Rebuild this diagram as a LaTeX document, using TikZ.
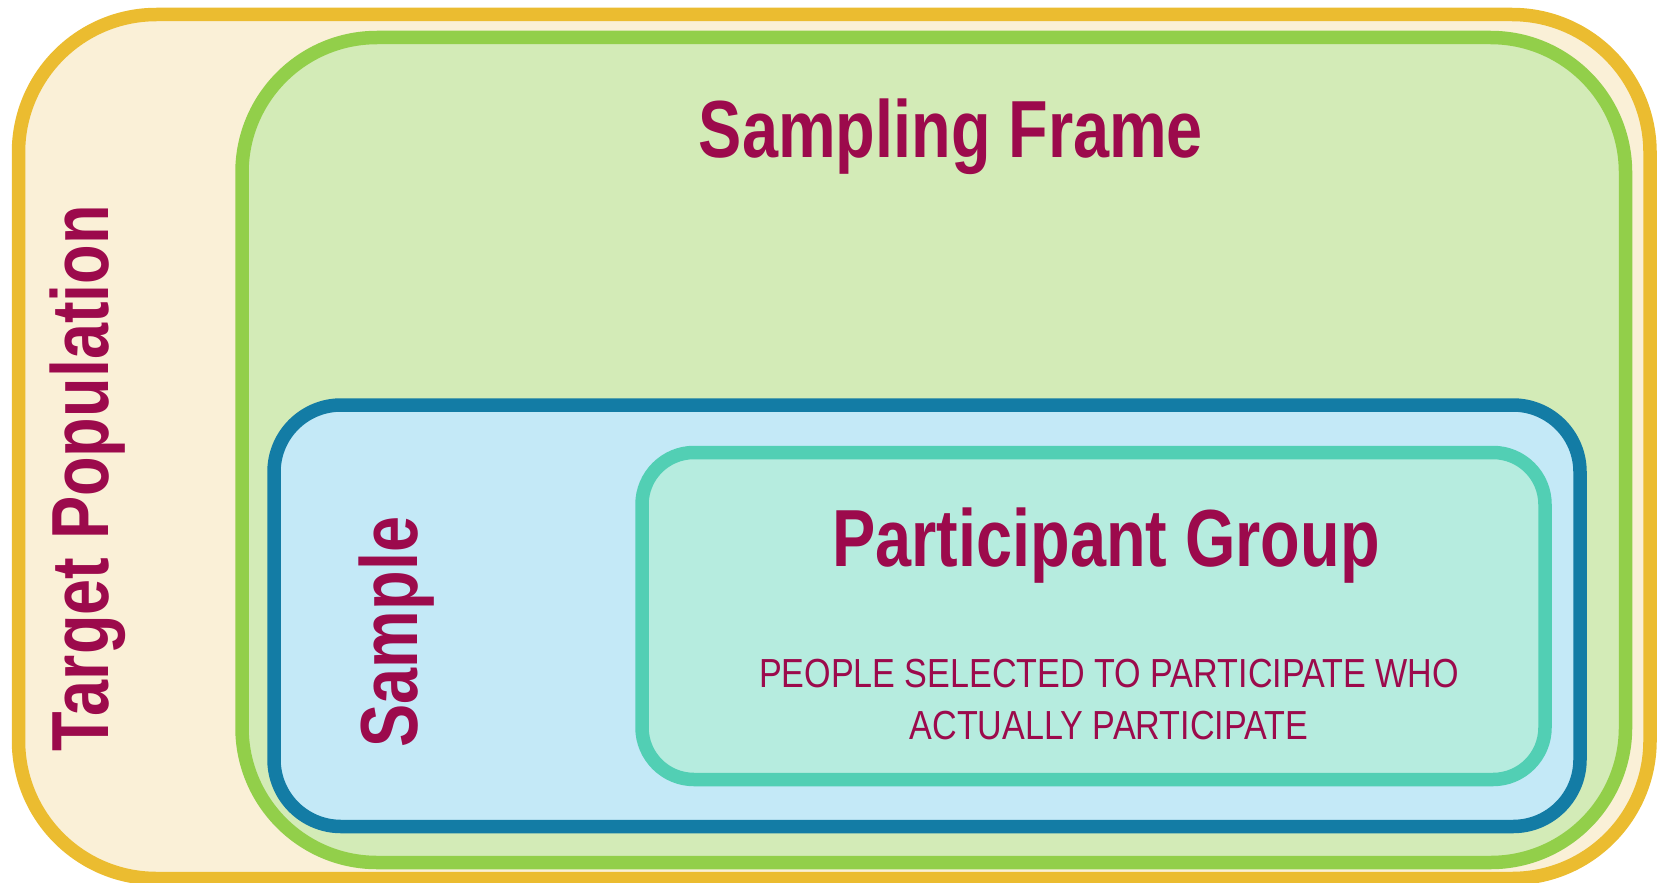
\documentclass[tikz,border=0pt]{standalone}
\usepackage{fontspec}
\setmainfont{Liberation Sans}
\newfontfamily\narrowbold[FakeStretch=0.80]{Liberation Sans}
\newfontfamily\narrowreg[FakeStretch=0.84]{Liberation Sans}
\definecolor{ylwline}{HTML}{EBBC30}
\definecolor{ylwfill}{HTML}{FAF0D7}
\definecolor{grnline}{HTML}{92CF4A}
\definecolor{grnfill}{HTML}{D3EBB7}
\definecolor{bluline}{HTML}{137CA5}
\definecolor{blufill}{HTML}{C4E9F7}
\definecolor{tealline}{HTML}{52CFB4}
\definecolor{tealfill}{HTML}{B6ECDF}
\definecolor{labelred}{HTML}{9C0A4C}
\tikzset{
  boxbase/.style={line width=13.5pt, line join=round},
  targetbox/.style={boxbase, draw=ylwline, fill=ylwfill, rounded corners=138pt},
  framebox/.style={boxbase, draw=grnline, fill=grnfill, rounded corners=135pt},
  samplebox/.style={boxbase, draw=bluline, fill=blufill, rounded corners=67pt},
  partbox/.style={boxbase, draw=tealline, fill=tealfill, rounded corners=52pt},
  bigtitle/.style={text=labelred, inner sep=0pt, anchor=base, font=\narrowbold\bfseries\fontsize{81}{96}\selectfont},
  smalltext/.style={text=labelred, inner sep=0pt, anchor=base, align=center, font=\narrowreg\fontsize{40.6}{52}\selectfont}
}
\begin{document}
\begin{tikzpicture}[x=1pt,y=-1pt]
\useasboundingbox (0,0) rectangle (1659,883);
\path[targetbox] (18.5,14.5) rectangle (1650,878.5);
\path[framebox] (242,37.5) rectangle (1625.5,862.5);
\path[samplebox] (274,405) rectangle (1580,826.5);
\path[partbox] (642,452.5) rectangle (1545,779.5);
\node[bigtitle] (frame) at (951,157) {Sampling Frame};
\node[bigtitle] (part) at (1106,566) {Participant Group};
\node[smalltext] (desc) at (1109,739) {PEOPLE SELECTED TO PARTICIPATE WHO\\ACTUALLY PARTICIPATE};
\node[bigtitle, rotate=90] (target) at (108,478) {Target Population};
\node[bigtitle, rotate=90] (sample) at (417,632) {Sample};
\end{tikzpicture}
\end{document}
